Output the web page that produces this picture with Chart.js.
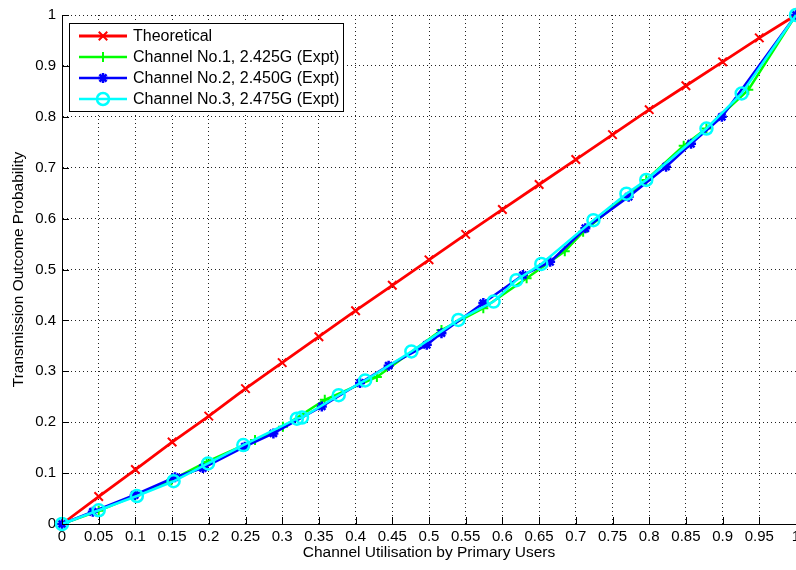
<!DOCTYPE html>
<html>
<head>
<meta charset="utf-8">
<script src="https://cdn.jsdelivr.net/npm/chart.js@4.4.1/dist/chart.umd.min.js"></script>
<style>
  html, body { margin: 0; padding: 0; background: #fff; }
  #wrap { width: 796px; height: 570px; }
</style>
</head>
<body>
<div id="wrap"><canvas id="chart" width="796" height="570"></canvas></div>
<script>
// tick labels
const xTicks = [0, 0.05, 0.1, 0.15, 0.2, 0.25, 0.3, 0.35, 0.4, 0.45, 0.5, 0.55, 0.6, 0.65, 0.7, 0.75, 0.8, 0.85, 0.9, 0.95, 1];
const yTicks = [0, 0.1, 0.2, 0.3, 0.4, 0.5, 0.6, 0.7, 0.8, 0.9, 1];

// Theoretical curve
const theoX = [0, 0.05, 0.1, 0.15, 0.2, 0.25, 0.3, 0.35, 0.4, 0.45, 0.5, 0.55, 0.6, 0.65, 0.7, 0.75, 0.8, 0.85, 0.9, 0.95, 1];
const theoY = [0, 0.054, 0.107, 0.161, 0.212, 0.266, 0.317, 0.368, 0.419, 0.469, 0.519, 0.569, 0.618, 0.667, 0.716, 0.765, 0.814, 0.861, 0.908, 0.955, 1];

// Channel No.1, 2.425G
const ch1X = [0, 0.05, 0.1, 0.149, 0.197, 0.263, 0.301, 0.358, 0.429, 0.517, 0.574, 0.633, 0.685, 0.71, 0.796, 0.847, 0.878, 0.935, 1];
const ch1Y = [0, 0.026, 0.056, 0.086, 0.122, 0.165, 0.191, 0.244, 0.289, 0.381, 0.424, 0.483, 0.536, 0.574, 0.676, 0.743, 0.777, 0.853, 1];

// Channel No.2, 2.450G
const ch2X = [0, 0.042, 0.099, 0.154, 0.192, 0.249, 0.288, 0.354, 0.406, 0.445, 0.497, 0.517, 0.574, 0.628, 0.665, 0.713, 0.772, 0.823, 0.857, 0.899, 1];
const ch2Y = [0, 0.024, 0.057, 0.092, 0.110, 0.152, 0.178, 0.231, 0.277, 0.311, 0.352, 0.375, 0.434, 0.489, 0.515, 0.581, 0.643, 0.702, 0.747, 0.800, 1];

// Channel No.3, 2.475G
const ch3X = [0, 0.05, 0.102, 0.152, 0.199, 0.247, 0.32, 0.327, 0.377, 0.413, 0.476, 0.54, 0.588, 0.619, 0.653, 0.724, 0.769, 0.796, 0.878, 0.926, 1];
const ch3Y = [0, 0.027, 0.055, 0.084, 0.119, 0.155, 0.207, 0.209, 0.253, 0.282, 0.339, 0.401, 0.437, 0.479, 0.511, 0.597, 0.649, 0.676, 0.777, 0.846, 1];

const FONT = "'Liberation Sans', Arial, sans-serif";

function pts(xs, ys) {
    return xs.map((x, i) => ({ x: x, y: ys[i] }));
}

function fmt(v) {
    return String(Number(v.toFixed(2)));
}

// legend drawn MATLAB style, boxed, inside the axes
const boxLegend = {
    id: 'boxLegend',
    afterDraw(chart) {
        const c = chart.ctx;
        const x0 = 69, y0 = 23, w = 274, h = 88;
        c.save();
        c.fillStyle = '#fff';
        c.fillRect(x0, y0, w, h);
        c.strokeStyle = '#000';
        c.lineWidth = 1;
        c.strokeRect(x0 + 0.5, y0 + 0.5, w, h);
        c.font = '16px ' + FONT;
        c.textBaseline = 'middle';
        chart.data.datasets.forEach((ds, i) => {
            const y = 36 + i * 21;
            c.strokeStyle = ds.borderColor;
            c.lineWidth = ds.borderWidth;
            c.beginPath();
            c.moveTo(79, y);
            c.lineTo(127, y);
            c.stroke();
            c.lineWidth = ds.pointBorderWidth;
            c.fillStyle = ds.pointBackgroundColor;
            Chart.helpers.drawPoint(c, {
                pointStyle: ds.pointStyle,
                radius: ds.pointRadius,
                borderWidth: ds.pointBorderWidth,
                rotation: 0
            }, 103, y);
            c.fillStyle = '#000';
            c.fillText(ds.label, 133, y + 1);
        });
        c.restore();
    }
};

// inward tick marks on the bottom and left axes
const innerTicks = {
    id: 'innerTicks',
    afterDatasetsDraw(chart) {
        const c = chart.ctx;
        const xs = chart.scales.x, ys = chart.scales.y;
        const a = chart.chartArea;
        c.save();
        c.strokeStyle = '#000';
        c.lineWidth = 1;
        c.beginPath();
        xTicks.forEach(v => {
            const px = Math.round(xs.getPixelForValue(v)) + 0.5;
            c.moveTo(px, a.bottom);
            c.lineTo(px, a.bottom - 7);
        });
        yTicks.forEach(v => {
            const py = Math.round(ys.getPixelForValue(v)) + 0.5;
            c.moveTo(a.left, py);
            c.lineTo(a.left + 7, py);
        });
        c.stroke();
        c.restore();
    }
};

const ctx = document.getElementById('chart').getContext('2d');
const chart = new Chart(ctx, {
    type: 'scatter',
    data: {
        datasets: [{
            label: 'Theoretical',
            data: pts(theoX, theoY),
            showLine: true,
            borderColor: '#ff0000',
            backgroundColor: '#ff0000',
            borderWidth: 2.8,
            pointStyle: 'crossRot',
            pointRadius: 6,
            pointBorderWidth: 2,
            pointBorderColor: '#ff0000',
            pointBackgroundColor: '#ff0000',
            clip: false,
            order: 3
        }, {
            label: 'Channel No.1, 2.425G (Expt)',
            data: pts(ch1X, ch1Y),
            showLine: true,
            borderColor: '#00ff00',
            backgroundColor: '#00ff00',
            borderWidth: 2.5,
            pointStyle: 'cross',
            pointRadius: 5,
            pointBorderWidth: 2,
            pointBorderColor: '#00ff00',
            pointBackgroundColor: '#00ff00',
            clip: false,
            order: 2
        }, {
            label: 'Channel No.2, 2.450G (Expt)',
            data: pts(ch2X, ch2Y),
            showLine: true,
            borderColor: '#0000ff',
            backgroundColor: '#0000ff',
            borderWidth: 2.5,
            pointStyle: 'star',
            pointRadius: 5,
            pointBorderWidth: 2.5,
            pointBorderColor: '#0000ff',
            pointBackgroundColor: '#0000ff',
            clip: false,
            order: 1
        }, {
            label: 'Channel No.3, 2.475G (Expt)',
            data: pts(ch3X, ch3Y),
            showLine: true,
            borderColor: '#00ffff',
            backgroundColor: 'rgba(0,0,0,0)',
            borderWidth: 2.5,
            pointStyle: 'circle',
            pointRadius: 6,
            pointBorderWidth: 2.5,
            pointBorderColor: '#00ffff',
            pointBackgroundColor: 'rgba(0,0,0,0)',
            clip: false,
            order: 0
        }]
    },
    options: {
        responsive: false,
        animation: false,
        devicePixelRatio: 1,
        layout: { autoPadding: false, padding: { top: 15, right: 0, left: 0, bottom: 0 } },
        plugins: {
            legend: { display: false },
            tooltip: { enabled: false }
        },
        elements: { line: { tension: 0 } },
        scales: {
            x: {
                type: 'linear',
                min: 0,
                max: 1,
                afterBuildTicks: s => { s.ticks = xTicks.map(v => ({ value: v })); },
                afterFit: s => { s.height = 46; s.paddingLeft = 0; s.paddingRight = 0; },
                ticks: {
                    autoSkip: false,
                    maxRotation: 0,
                    padding: 4,
                    color: '#000',
                    font: { family: FONT, size: 15 },
                    callback: v => fmt(v)
                },
                grid: {
                    color: '#222',
                    lineWidth: 1,
                    drawTicks: false
                },
                border: { display: true, color: '#000', width: 1, dash: [1, 3] },
                title: {
                    display: true,
                    text: 'Channel Utilisation by Primary Users',
                    color: '#000',
                    font: { family: FONT, size: 15.5 },
                    padding: { top: 0, bottom: 8 }
                }
            },
            y: {
                type: 'linear',
                min: 0,
                max: 1,
                afterBuildTicks: s => { s.ticks = yTicks.map(v => ({ value: v })); },
                afterFit: s => { s.width = 62; s.paddingTop = 0; s.paddingBottom = 0; },
                ticks: {
                    autoSkip: false,
                    padding: 6,
                    color: '#000',
                    font: { family: FONT, size: 15 },
                    callback: v => fmt(v)
                },
                grid: {
                    color: '#222',
                    lineWidth: 1,
                    drawTicks: false
                },
                border: { display: true, color: '#000', width: 1, dash: [1, 3] },
                title: {
                    display: true,
                    text: 'Transmission Outcome Probability',
                    color: '#000',
                    font: { family: FONT, size: 15.5 },
                    padding: { top: 9, bottom: 0 }
                }
            }
        }
    },
    plugins: [innerTicks, boxLegend]
});
</script>
</body>
</html>
